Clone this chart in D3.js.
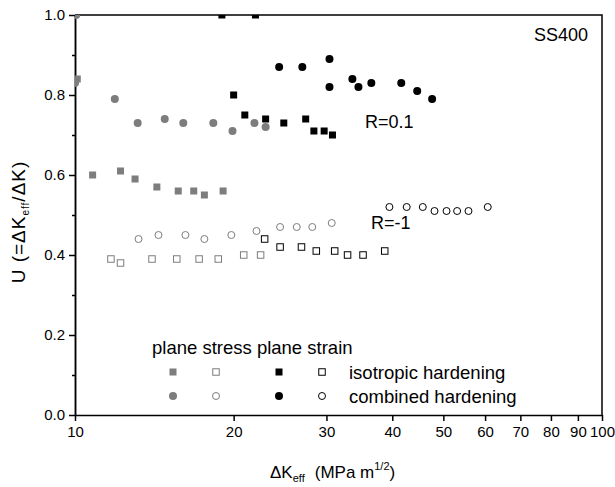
<!DOCTYPE html>
<html>
<head>
<meta charset="utf-8">
<script src="https://cdn.jsdelivr.net/npm/d3@7"></script>
<style>
  body { margin: 0; background: #fff; }
  svg { font-family: "Liberation Sans", Arial, sans-serif; }
  .axis path, .axis line { stroke: #000; stroke-width: 1.5; }
  .axis text { font-size: 15px; fill: #000; }
</style>
</head>
<body>
<svg width="615" height="487"></svg>
<script>
// plane stress (grey) / plane strain (black), R=0.1 and R=-1
const psIsoR01X = [10.1, 10.8, 12.2, 13.0, 14.3, 15.7, 16.8, 17.6, 19.1];
const psIsoR01Y = [0.84, 0.60, 0.61, 0.59, 0.57, 0.56, 0.56, 0.55, 0.56];
const psComR01X = [10.05, 10.0, 11.9, 13.15, 14.8, 16.05, 18.3, 19.9, 21.9, 23.0];
const psComR01Y = [1.0, 0.83, 0.79, 0.73, 0.74, 0.73, 0.73, 0.71, 0.73, 0.72];
const peIsoR01X = [19.0, 22.0, 20.0, 21.0, 23.0, 24.9, 27.4, 28.4, 29.7, 30.8];
const peIsoR01Y = [1.0, 1.0, 0.80, 0.75, 0.74, 0.73, 0.74, 0.71, 0.71, 0.70];
const peComR01X = [24.4, 27.0, 30.4, 30.4, 33.6, 34.5, 36.5, 41.6, 44.6, 47.6];
const peComR01Y = [0.87, 0.87, 0.89, 0.82, 0.84, 0.82, 0.83, 0.83, 0.81, 0.79];

const psIsoRm1X = [11.7, 12.2, 14.0, 15.6, 17.2, 18.7, 20.9, 22.5];
const psIsoRm1Y = [0.39, 0.38, 0.39, 0.39, 0.39, 0.39, 0.40, 0.40];
const psComRm1X = [13.2, 14.4, 16.2, 17.6, 19.8, 22.1, 24.5, 26.35, 28.2, 30.7];
const psComRm1Y = [0.44, 0.45, 0.45, 0.44, 0.45, 0.46, 0.47, 0.47, 0.47, 0.48];
const peIsoRm1X = [22.9, 24.5, 26.9, 28.7, 31.1, 32.9, 35.2, 38.7];
const peIsoRm1Y = [0.44, 0.42, 0.42, 0.41, 0.41, 0.40, 0.40, 0.41];
const peComRm1X = [39.5, 42.6, 45.7, 48.1, 50.7, 53.1, 55.8, 60.7];
const peComRm1Y = [0.52, 0.52, 0.52, 0.51, 0.51, 0.51, 0.51, 0.52];

const xTicks = [10, 20, 30, 40, 50, 60, 70, 80, 90, 100];
const yTicks = [0, 0.2, 0.4, 0.6, 0.8, 1.0];
const yMinor = [0.1, 0.3, 0.5, 0.7, 0.9];

const GREY = '#7d7d7d';

const svg = d3.select('svg');
const margin = {top: 15, right: 13, bottom: 72, left: 75};
const width = 615 - margin.left - margin.right;
const height = 487 - margin.top - margin.bottom;

const chart = svg.append('g')
  .attr('transform', `translate(${margin.left}, ${margin.top})`);

const x = d3.scaleLog().domain([10, 100]).range([0, width]);
const y = d3.scaleLinear().domain([0, 1.0]).range([height, 0]);

svg.append('defs').append('clipPath').attr('id', 'plotclip')
  .append('rect').attr('width', width).attr('height', height);

// axes
chart.append('g')
  .attr('class', 'axis')
  .attr('transform', `translate(0, ${height})`)
  .call(d3.axisBottom(x).tickValues(xTicks).tickFormat(d3.format('d')).tickSize(6).tickSizeOuter(0).tickPadding(5));

chart.append('g')
  .attr('class', 'axis')
  .call(d3.axisLeft(y).tickValues(yTicks).tickFormat(d3.format('.1f')).tickSize(6).tickSizeOuter(0).tickPadding(4));

chart.append('g')
  .attr('class', 'axis')
  .call(d3.axisLeft(y).tickValues(yMinor).tickFormat('').tickSize(3).tickSizeOuter(0));

// frame top + right
chart.append('path')
  .attr('d', `M0,0H${width}V${height}`)
  .attr('fill', 'none').attr('stroke', '#000').attr('stroke-width', 1.5);

const marks = chart.append('g').attr('clip-path', 'url(#plotclip)');

function zip(xs, ys) { return xs.map((v, i) => ({x: v, y: ys[i]})); }

function squares(xs, ys, color, filled, s) {
  marks.append('g').selectAll('rect')
    .data(zip(xs, ys)).enter().append('rect')
    .attr('x', d => x(d.x) - s / 2)
    .attr('y', d => y(d.y) - s / 2)
    .attr('width', s).attr('height', s)
    .attr('fill', filled ? color : '#fff')
    .attr('stroke', filled ? 'none' : color)
    .attr('stroke-width', 1);
}

function circles(xs, ys, color, filled, r) {
  marks.append('g').selectAll('circle')
    .data(zip(xs, ys)).enter().append('circle')
    .attr('cx', d => x(d.x))
    .attr('cy', d => y(d.y))
    .attr('r', r)
    .attr('fill', filled ? color : '#fff')
    .attr('stroke', filled ? 'none' : color)
    .attr('stroke-width', 1);
}

circles(psComR01X, psComR01Y, GREY, true, 4);
squares(psIsoR01X, psIsoR01Y, GREY, true, 7);
squares(peIsoR01X, peIsoR01Y, '#000', true, 7);
circles(peComR01X, peComR01Y, '#000', true, 4);
circles(psComRm1X, psComRm1Y, GREY, false, 3.5);
squares(psIsoRm1X, psIsoRm1Y, GREY, false, 6.5);
squares(peIsoRm1X, peIsoRm1Y, '#000', false, 6.5);
circles(peComRm1X, peComRm1Y, '#000', false, 3.5);

// annotations
svg.append('text').attr('x', 588).attr('y', 41).attr('text-anchor', 'end')
  .attr('font-size', 18).text('SS400');
svg.append('text').attr('x', 365).attr('y', 128)
  .attr('font-size', 18).text('R=0.1');
svg.append('text').attr('x', 371).attr('y', 229)
  .attr('font-size', 18).text('R=-1');

// legend
const lg = svg.append('g');
lg.append('text').attr('x', 152).attr('y', 354).attr('font-size', 18.5)
  .text('plane stress plane strain');
const lx = [173, 216, 279, 322];
const row1 = 372, row2 = 396;
lg.append('rect').attr('x', lx[0] - 3.5).attr('y', row1 - 3.5).attr('width', 7).attr('height', 7).attr('fill', GREY);
lg.append('rect').attr('x', lx[1] - 3.25).attr('y', row1 - 3.25).attr('width', 6.5).attr('height', 6.5).attr('fill', '#fff').attr('stroke', GREY);
lg.append('rect').attr('x', lx[2] - 3.5).attr('y', row1 - 3.5).attr('width', 7).attr('height', 7).attr('fill', '#000');
lg.append('rect').attr('x', lx[3] - 3.25).attr('y', row1 - 3.25).attr('width', 6.5).attr('height', 6.5).attr('fill', '#fff').attr('stroke', '#000');
lg.append('circle').attr('cx', lx[0]).attr('cy', row2).attr('r', 4).attr('fill', GREY);
lg.append('circle').attr('cx', lx[1]).attr('cy', row2).attr('r', 3.5).attr('fill', '#fff').attr('stroke', GREY);
lg.append('circle').attr('cx', lx[2]).attr('cy', row2).attr('r', 4).attr('fill', '#000');
lg.append('circle').attr('cx', lx[3]).attr('cy', row2).attr('r', 3.5).attr('fill', '#fff').attr('stroke', '#000');
lg.append('text').attr('x', 349).attr('y', row1 + 6.5).attr('font-size', 18.5).text('isotropic hardening');
lg.append('text').attr('x', 349).attr('y', row2 + 6.5).attr('font-size', 18.5).text('combined hardening');

// axis titles
const xt = svg.append('text').attr('x', 270).attr('y', 478).attr('font-size', 17);
xt.append('tspan').text('\u0394K');
xt.append('tspan').attr('font-size', 11).attr('dy', 4).text('eff');
xt.append('tspan').attr('dy', -4).attr('dx', 10).text('(MPa m');
xt.append('tspan').attr('font-size', 11).attr('dy', -8).text('1/2');
xt.append('tspan').attr('dy', 8).text(')');

const yt = svg.append('text')
  .attr('transform', `translate(25, 222) rotate(-90)`)
  .attr('text-anchor', 'middle').attr('font-size', 19)
  .attr('letter-spacing', 1);
yt.append('tspan').text('U (=\u0394K');
yt.append('tspan').attr('font-size', 10).attr('dy', 4).text('eff');
yt.append('tspan').attr('dy', -4).text('/\u0394K)');
</script>
</body>
</html>
